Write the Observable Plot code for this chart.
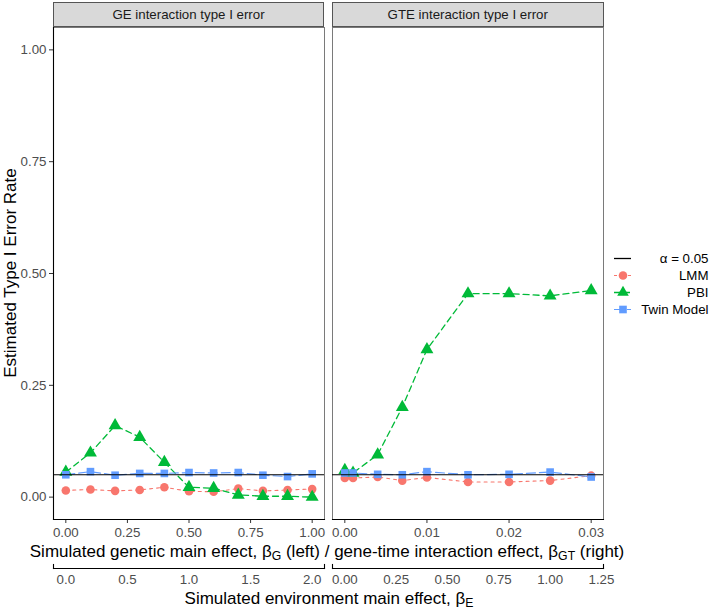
<!DOCTYPE html>
<html><head><meta charset="utf-8">
<script src="https://cdn.jsdelivr.net/npm/d3@7"></script>
<script src="https://cdn.jsdelivr.net/npm/@observablehq/plot@0.6"></script>
<style>
body{margin:0;background:#fff;}
#root{position:relative;width:709px;height:609px;font-family:"Liberation Sans",Arial,sans-serif;overflow:hidden;background:#fff;}
#root svg{position:absolute;overflow:visible;}
.strip{position:absolute;background:#d9d9d9;border:1px solid #555;box-sizing:border-box;font-size:13.3px;color:#1a1a1a;display:flex;align-items:center;justify-content:center;}
.title{position:absolute;font-size:17px;line-height:1;color:#000;white-space:nowrap;transform:translate(-50%,-50%);}
.title sub{font-size:0.72em;vertical-align:-0.25em;line-height:0;}
</style></head><body><div id="root"></div>
<script>
// ---- data ----
const methods = ["LMM", "PBI", "Twin Model"];
const methodColors = ["#F8766D", "#00BA38", "#619CFF"];
const methodSymbols = ["circle", "triangle", "square"];
const alphaLevel = 0.05;
const alphaLabel = "α = 0.05";

const geX = [0, 0.1, 0.2, 0.3, 0.4, 0.5, 0.6, 0.7, 0.8, 0.9, 1.0];
const geLMM = [0.015, 0.017, 0.014, 0.016, 0.022, 0.013, 0.012, 0.019, 0.014, 0.016, 0.018];
const gePBI = [0.056, 0.099, 0.160, 0.134, 0.078, 0.022, 0.020, 0.005, 0.002, 0.002, 0.000];
const geTwin = [0.050, 0.057, 0.049, 0.053, 0.053, 0.055, 0.054, 0.055, 0.049, 0.046, 0.052];

const gteX = [0, 0.001, 0.004, 0.007, 0.01, 0.015, 0.02, 0.025, 0.03];
const gteLMM = [0.043, 0.043, 0.045, 0.037, 0.044, 0.034, 0.034, 0.037, 0.048];
const gtePBI = [0.060, 0.054, 0.095, 0.201, 0.330, 0.455, 0.455, 0.450, 0.462];
const gteTwin = [0.054, 0.054, 0.051, 0.050, 0.057, 0.050, 0.051, 0.056, 0.045];

const stripLabels = ["GE interaction type I error", "GTE interaction type I error"];
const yTicks = [0, 0.25, 0.5, 0.75, 1];
const geTicks = [0, 0.25, 0.5, 0.75, 1];
const gteTicks = [0, 0.01, 0.02, 0.03];
const envTicksLeft = [0, 0.5, 1, 1.5, 2];
const envTicksRight = [0, 0.25, 0.5, 0.75, 1, 1.25];

// ---- helpers ----
const root = document.getElementById("root");
const dashes = {"LMM": "3,4", "PBI": "6,4", "Twin Model": "9,4"};
const lineWidths = {"LMM": 1.1, "PBI": 1.3, "Twin Model": 1.2};
const dotR = {"LMM": 4.3, "PBI": 4.8, "Twin Model": 4.3};

function rowsFor(xs, seriesList) {
  const rows = [];
  methods.forEach((m, k) => xs.forEach((x, i) => rows.push({method: m, x, y: seriesList[k][i]})));
  return rows;
}
function place(node, left, top) { node.style.left = left + "px"; node.style.top = top + "px"; root.appendChild(node); }

const common = {
  style: {fontFamily: "Liberation Sans, Arial, sans-serif", fontSize: "13.3px", color: "#4d4d4d", overflow: "visible", background: "transparent"},
  color: {domain: methods, range: methodColors},
  symbol: {domain: methods, range: methodSymbols}
};

function panel({xs, series, xDomain, xTicks, xFmt, showY, width, mLeft, mRight}) {
  const rows = rowsFor(xs, series);
  const marks = [Plot.frame({stroke: "#7a7a7a"})];
  methods.forEach(m => {
    marks.push(Plot.line(rows.filter(d => d.method === m), {x: "x", y: "y", stroke: "method", strokeWidth: lineWidths[m], strokeDasharray: dashes[m]}));
  });
  methods.forEach(m => {
    marks.push(Plot.dot(rows.filter(d => d.method === m), {x: "x", y: "y", fill: "method", symbol: "method", r: dotR[m], stroke: "none"}));
  });
  marks.push(Plot.ruleY([alphaLevel], {stroke: "#000", strokeWidth: 1.1}));
  marks.push(Plot.axisX({ticks: xTicks, tickFormat: xFmt, tickSize: 4, tickPadding: 4, stroke: "#333", fill: "#4d4d4d", fontSize: 13.3}));
  marks.push(Plot.frame({anchor: "bottom", stroke: "#000", strokeWidth: 1.1}));
  if (showY) {
    marks.push(Plot.axisY({ticks: yTicks, tickFormat: d3.format(".2f"), tickSize: 4, tickPadding: 3, stroke: "#333", fill: "#4d4d4d", fontSize: 13.3}));
    marks.push(Plot.frame({anchor: "left", stroke: "#000", strokeWidth: 1.1}));
  }
  return Plot.plot({
    ...common,
    width, height: 545,
    marginLeft: mLeft, marginRight: mRight, marginTop: 27, marginBottom: 26,
    x: {domain: xDomain, label: null, axis: null},
    y: {domain: [-0.05, 1.05], label: null, axis: null},
    marks
  });
}

function envAxis({domain, ticks, fmt, width, mLeft, mRight}) {
  return Plot.plot({
    ...common,
    width, height: 35, marginLeft: mLeft, marginRight: mRight, marginTop: 4, marginBottom: 27,
    x: {domain, label: null, axis: null},
    y: {domain: [0, 1], axis: null},
    marks: [
      Plot.axisX({ticks, tickFormat: fmt, tickSize: 0, tickPadding: 6, fill: "#4d4d4d", fontSize: 13.3}),
      Plot.frame({anchor: "bottom", stroke: "#000", strokeWidth: 1.1}),
      Plot.frame({anchor: "left", stroke: "#000", strokeWidth: 1.1}),
      Plot.frame({anchor: "right", stroke: "#000", strokeWidth: 1.1})
    ]
  });
}

// panels
place(panel({xs: geX, series: [geLMM, gePBI, geTwin], xDomain: [-0.05, 1.05], xTicks: geTicks, xFmt: d3.format(".2f"), showY: true, width: 325, mLeft: 53, mRight: 1}), 0, 0);
place(panel({xs: gteX, series: [gteLMM, gtePBI, gteTwin], xDomain: [-0.0015, 0.0315], xTicks: gteTicks, xFmt: d3.format(".2f"), showY: false, width: 274, mLeft: 1, mRight: 2}), 331, 0);

// secondary axes
place(envAxis({domain: [-0.1, 2.1], ticks: envTicksLeft, fmt: d3.format(".1f"), width: 325, mLeft: 53, mRight: 1}), 0, 560);
place(envAxis({domain: [-0.06, 1.26], ticks: envTicksRight, fmt: d3.format(".2f"), width: 274, mLeft: 1, mRight: 2}), 331, 560);

// strips
[[53, 271], [332, 271.5]].forEach(([l, w], i) => {
  const s = document.createElement("div");
  s.className = "strip";
  s.style.left = l + "px"; s.style.top = "2px"; s.style.width = w + "px"; s.style.height = "25px";
  s.textContent = stripLabels[i];
  root.appendChild(s);
});

// titles
function title(html, x, y, rotate) {
  const t = document.createElement("div");
  t.className = "title";
  t.innerHTML = html;
  t.style.left = x + "px"; t.style.top = y + "px";
  if (rotate) t.style.transform = "translate(-50%,-50%) rotate(-90deg)";
  root.appendChild(t);
}
title("Estimated Type I Error Rate", 10, 273, true);
title("Simulated genetic main effect, β<sub>G</sub> (left) / gene-time interaction effect, β<sub>GT</sub> (right)", 327, 551);
title("Simulated environment main effect, β<sub>E</sub>", 329, 598);

// legend
const legendRows = [{label: alphaLabel, method: null}, ...methods.map(m => ({label: m, method: m}))];
const legend = Plot.plot({
  ...common,
  width: 109, height: 90, marginLeft: 14, marginRight: 78, marginTop: 0, marginBottom: 0,
  y: {type: "point", domain: legendRows.map(d => d.label), range: [18, 69], padding: 0, axis: null},
  marks: [
    Plot.tickY(legendRows.filter(d => !d.method), {y: "label", stroke: "#000", strokeWidth: 1.3}),
    ...methods.map(m => Plot.tickY(legendRows.filter(d => d.method === m), {y: "label", stroke: "method", strokeWidth: lineWidths[m], strokeDasharray: dashes[m]})),
    Plot.dot(legendRows.filter(d => d.method), {y: "label", fill: "method", symbol: "method", r: 4.3, frameAnchor: "middle"}),
    Plot.text(legendRows, {y: "label", text: "label", frameAnchor: "right", textAnchor: "end", dx: 77, fill: "#000", fontSize: 13.3})
  ]
});
place(legend, 600, 240);
</script>
</body></html>
